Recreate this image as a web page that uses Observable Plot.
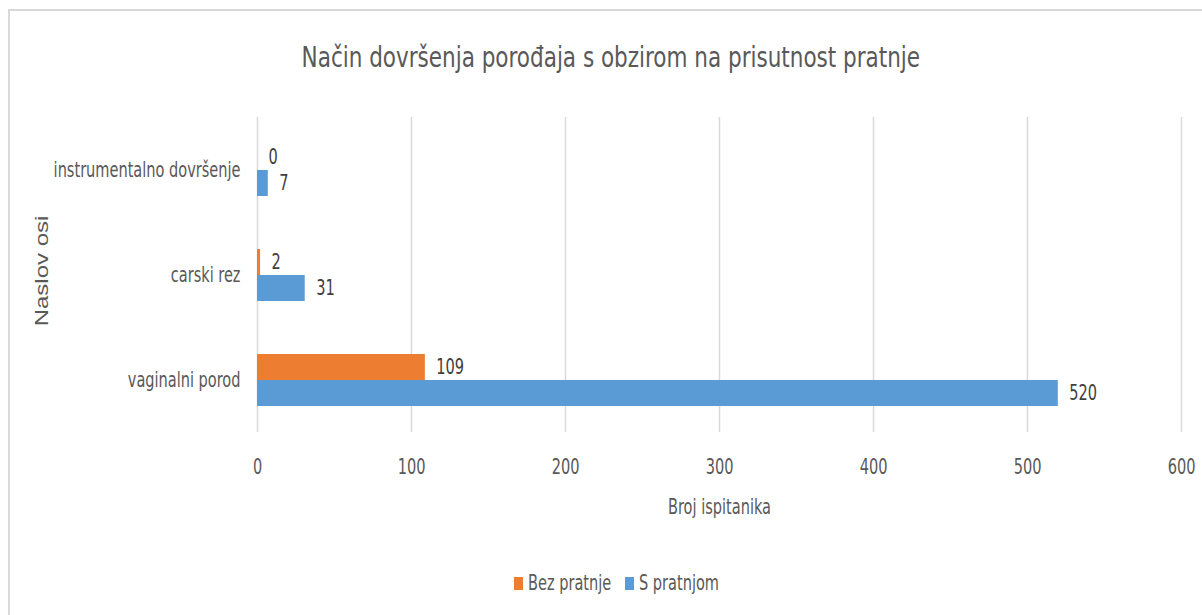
<!DOCTYPE html>
<html>
<head>
<meta charset="utf-8">
<script src="https://cdn.jsdelivr.net/npm/d3@7"></script>
<script src="https://cdn.jsdelivr.net/npm/@observablehq/plot@0.6"></script>
<style>
  html, body { margin: 0; padding: 0; background: #fff; }
  #wrap { position: relative; width: 1202px; height: 615px; overflow: hidden;
    font-family: 'DejaVu Sans Condensed', sans-serif; color: #595959; }
  #frame { position: absolute; left: 8px; top: 9px; width: 1300px; height: 700px;
    border-left: 2px solid #d9d9d9; border-top: 2px solid #d9d9d9; box-sizing: border-box; }
  #title { position: absolute; left: 0; width: 1222px; top: 43px; text-align: center;
    font-size: 29px; line-height: 1; color: #595959; white-space: nowrap; }
  #title span { display: inline-block; transform: scaleX(0.825); transform-origin: center; }
  #ytitle { position: absolute; left: 42px; top: 271px; transform: translate(-50%, -50%) rotate(-90deg) scaleY(0.77);
    font-family: 'Liberation Sans', Arial, sans-serif; font-size: 24px; line-height: 1; color: #595959; white-space: nowrap; }
  #chart { position: absolute; left: 0; top: 100px; }
  .leg { position: absolute; font-size: 21px; line-height: 1; color: #595959; white-space: nowrap;
    transform: scaleX(0.77); transform-origin: left center; }
  .sw { position: absolute; width: 9px; height: 13px; }
</style>
</head>
<body>
<div id="wrap">
  <div id="frame"></div>
  <div id="title"><span></span></div>
  <div id="ytitle">Naslov osi</div>
  <div id="chart"></div>
</div>
<script>
const categories = ["instrumentalno dovršenje", "carski rez", "vaginalni porod"];
const seriesNames = ["Bez pratnje", "S pratnjom"];
const seriesColors = ["#ED7D31", "#5B9BD5"];
const bezPratnje = [0, 2, 109];
const sPratnjom = [7, 31, 520];
const xTicks = [0, 100, 200, 300, 400, 500, 600];
const titleText = "Način dovršenja porođaja s obzirom na prisutnost pratnje";
const xTitle = "Broj ispitanika";

const data = [];
categories.forEach((c, i) => {
  data.push({cat: c, series: seriesNames[0], value: bezPratnje[i]});
  data.push({cat: c, series: seriesNames[1], value: sPratnjom[i]});
});

document.querySelector("#title span").textContent = titleText;

const font = "'DejaVu Sans Condensed', sans-serif";
const FS = 21;

const chart = Plot.plot({
  width: 1202,
  height: 440,
  marginLeft: 257,
  marginRight: 21,
  marginTop: 16,
  marginBottom: 108,
  style: {fontFamily: font, fontSize: FS + "px", color: "#595959", background: "transparent"},
  x: {domain: [0, 600], ticks: xTicks},
  y: {domain: seriesNames, paddingInner: 0, paddingOuter: 0.95, axis: null},
  fy: {domain: categories, padding: 0},
  color: {domain: seriesNames, range: seriesColors},
  facet: {data, y: "cat"},
  marks: [
    Plot.gridX(xTicks, {stroke: "#d9d9d9", strokeOpacity: 1, strokeWidth: 1.5}),
    Plot.barX(data, {x: "value", y: "series", fill: "series", fy: "cat"}),
    Plot.text(data, {x: "value", y: "series", fy: "cat", text: d => String(d.value),
      textAnchor: "start", dx: 11, fill: "#404040", fontSize: FS}),
    Plot.axisX(xTicks, {tickSize: 0, tickPadding: 27, fontSize: FS, fill: "#595959",
      label: xTitle, labelAnchor: "center", labelArrow: "none", labelOffset: 81}),
    Plot.axisFy({anchor: "left", tickSize: 0, tickPadding: 17, fontSize: FS, fill: "#595959", label: null})
  ]
});

// horizontally condense the text glyphs (as in the reference's narrow font)
chart.querySelectorAll("text").forEach(t => {
  const tr = t.getAttribute("transform") || "";
  const x = parseFloat(t.getAttribute("x") || "0");
  if (x) { t.removeAttribute("x"); }
  t.setAttribute("transform", `${tr} translate(${x},0) scale(0.77,1)`);
});
document.getElementById("chart").appendChild(chart);

// legend
const wrap = document.getElementById("wrap");
const legPos = [{sw: 514, tx: 528}, {sw: 625, tx: 639}];
seriesNames.forEach((s, i) => {
  const sw = document.createElement("div");
  sw.className = "sw";
  sw.style.left = legPos[i].sw + "px";
  sw.style.top = "577px";
  sw.style.background = seriesColors[i];
  wrap.appendChild(sw);
  const tx = document.createElement("div");
  tx.className = "leg";
  tx.style.left = legPos[i].tx + "px";
  tx.style.top = "573px";
  tx.textContent = s;
  wrap.appendChild(tx);
});
</script>
</body>
</html>
